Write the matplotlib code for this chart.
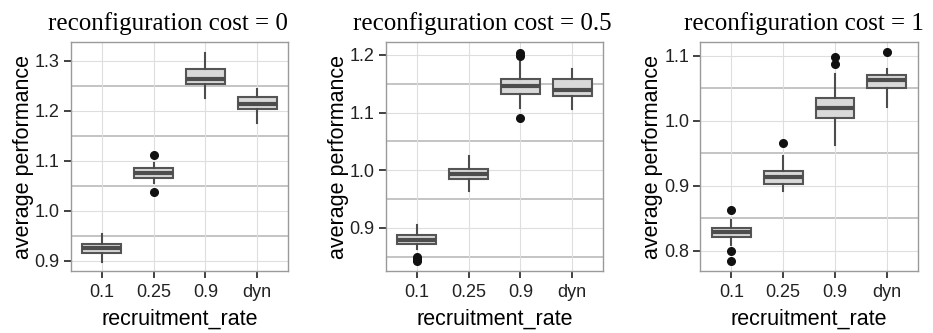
import matplotlib
matplotlib.use("Agg")
import matplotlib.pyplot as plt
import numpy as np

categories = ["0.1", "0.25", "0.9", "dyn"]
titles = ["reconfiguration cost = 0", "reconfiguration cost = 0.5", "reconfiguration cost = 1"]

# per panel, per category: (whislo, q1, med, q3, whishi)
panel0 = [(0.898, 0.916, 0.925, 0.934, 0.953),
          (1.055, 1.066, 1.076, 1.085, 1.095),
          (1.225, 1.253, 1.264, 1.283, 1.317),
          (1.176, 1.204, 1.213, 1.227, 1.243)]
panel0_out = [[], [1.112, 1.038], [], []]

panel1 = [(0.864, 0.872, 0.879, 0.887, 0.905),
          (0.964, 0.985, 0.993, 1.002, 1.024),
          (1.1075, 1.132, 1.146, 1.158, 1.188),
          (1.106, 1.1295, 1.140, 1.159, 1.176)]
panel1_out = [[0.850, 0.846, 0.843], [], [1.204, 1.198, 1.091], []]

panel2 = [(0.809, 0.821, 0.828, 0.835, 0.847),
          (0.892, 0.902, 0.913, 0.923, 0.945),
          (0.963, 1.004, 1.019, 1.035, 1.072),
          (1.0215, 1.050, 1.0626, 1.070, 1.0795)]
panel2_out = [[0.863, 0.800, 0.784], [0.965], [1.098, 1.087], [1.105]]

stats_all = [panel0, panel1, panel2]
outs_all = [panel0_out, panel1_out, panel2_out]
yticks_all = [[0.9, 1.0, 1.1, 1.2, 1.3], [0.9, 1.0, 1.1, 1.2], [0.8, 0.9, 1.0, 1.1]]
yminor_all = [[0.95, 1.05, 1.15, 1.25], [0.85, 0.95, 1.05, 1.15], [0.85, 0.95, 1.05]]
ylims = [(0.879, 1.3375), (0.8254, 1.222), (0.7687, 1.1205)]

W, H = 933, 333
fig = plt.figure(figsize=(W / 100, H / 100), dpi=100)
lefts = [0.0758, 0.4134, 0.7506]
title_cx = [168, 482.5, 804]
sans = "Liberation Sans"
serif = "Liberation Serif"
ax_w = 0.2332
ax_h = 0.6868
ax_b = 0.1862

for i in range(3):
    ax = fig.add_axes([lefts[i], ax_b, ax_w, ax_h])
    ax.set_facecolor("white")
    for s in ax.spines.values():
        s.set_color("#9a9a9a")
        s.set_linewidth(1.0)
    # grid
    for m in yminor_all[i]:
        ax.axhline(m, color="#c4c4c4", lw=1.4, zorder=0)
    for t in yticks_all[i]:
        ax.axhline(t, color="#dedede", lw=0.8, zorder=0)
    for p in range(1, 5):
        ax.axvline(p, color="#dedede", lw=0.8, zorder=0)
    bstats = []
    for (lo, q1, med, q3, hi), fl in zip(stats_all[i], outs_all[i]):
        bstats.append(dict(whislo=lo, q1=q1, med=med, q3=q3, whishi=hi, fliers=fl))
    ax.bxp(bstats, positions=[1, 2, 3, 4], widths=0.75, patch_artist=True,
           showcaps=False,
           boxprops=dict(facecolor="#d9d9d9", edgecolor="#555555", linewidth=1.5),
           medianprops=dict(color="#4d4d4d", linewidth=3.0, solid_capstyle="butt"),
           whiskerprops=dict(color="#4d4d4d", linewidth=1.5),
           flierprops=dict(marker="o", markerfacecolor="#111111", markeredgecolor="#111111",
                           markersize=5.5, linestyle="none"),
           zorder=3)
    ax.set_xlim(0.4, 4.6)
    ax.set_ylim(*ylims[i])
    ax.set_xticks([1, 2, 3, 4])
    ax.set_xticklabels(categories, fontfamily=sans, fontsize=13, color="#222222")
    ax.set_yticks(yticks_all[i])
    ax.set_yticklabels([f"{v:.1f}" for v in yticks_all[i]], fontfamily=sans, fontsize=13, color="#222222")
    ax.tick_params(axis="both", length=5, width=1.3, color="#333333", direction="out")
    ax.tick_params(axis="x", pad=4.5)
    ax.tick_params(axis="y", pad=3)
    ax.set_xlabel("recruitment_rate", fontfamily=sans, fontsize=15.5)
    ax.xaxis.label.set_va("baseline")
    ax.xaxis.set_label_coords(0.5, (271 - 325) / (ax_h * H))
    ax.set_ylabel("average performance", fontfamily=sans, fontsize=15.5)
    ax.yaxis.set_label_coords((33.5 - 70.7) / (ax_w * W), 0.5)
    fig.text(title_cx[i] / W, 1 - 30 / H, titles[i], fontfamily=serif, fontsize=18,
             ha="center", va="baseline")

fig.savefig("out.png", dpi=100)
